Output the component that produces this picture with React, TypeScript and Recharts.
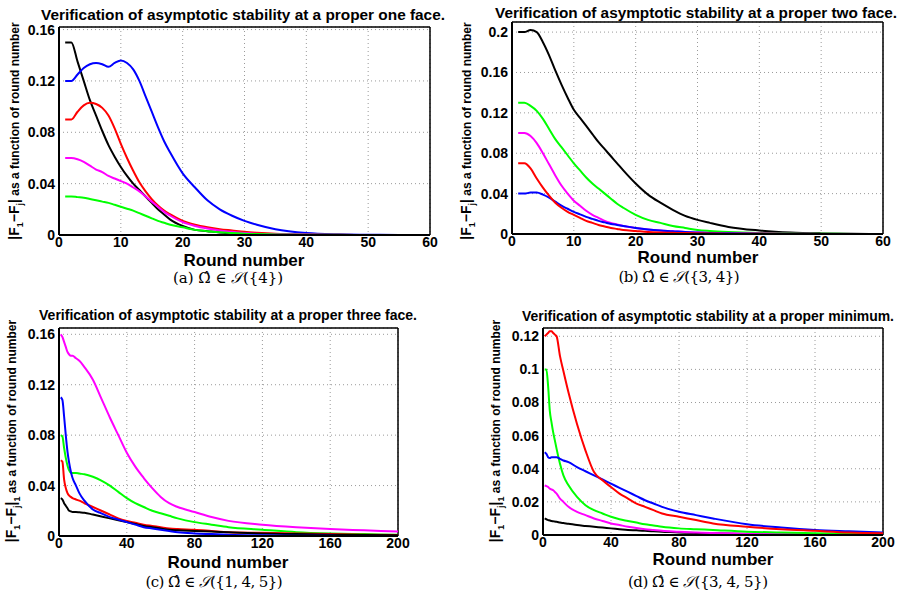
import React from "react"
import { CartesianGrid, Line, LineChart, ReferenceLine, XAxis, YAxis } from "recharts"

const roundsShort = [1, 2, 3, 4, 5, 6, 7, 8, 9, 10, 11, 12, 13, 14, 15, 16, 17, 18, 20, 22, 24, 26, 28, 30, 32, 35, 40, 45, 50, 55, 60]
const roundsLong = [1, 2, 3, 4, 5, 6, 7, 8, 10, 12, 15, 20, 25, 30, 35, 40, 45, 50, 55, 60, 65, 70, 80, 90, 100, 120, 140, 160, 180, 200]

// (a) one face
const aBlack = [0.15, 0.15, 0.135, 0.12, 0.105, 0.093, 0.081, 0.07, 0.061, 0.053, 0.046, 0.04, 0.035, 0.03, 0.025, 0.02, 0.016, 0.012, 0.007, 0.004, 0.003, 0.002, 0.0012, 0.0008, 0.0005, 0.0003, 0.0001, 0, 0, 0, 0]
const aBlue = [0.12, 0.12, 0.125, 0.13, 0.133, 0.134, 0.133, 0.131, 0.134, 0.136, 0.134, 0.129, 0.12, 0.108, 0.096, 0.084, 0.073, 0.064, 0.048, 0.037, 0.027, 0.02, 0.015, 0.011, 0.008, 0.0045, 0.0015, 0.0005, 0.0002, 0, 0]
const aRed = [0.09, 0.09, 0.096, 0.101, 0.103, 0.102, 0.099, 0.093, 0.083, 0.071, 0.06, 0.05, 0.041, 0.034, 0.028, 0.023, 0.019, 0.016, 0.011, 0.008, 0.006, 0.0045, 0.0035, 0.0025, 0.0018, 0.001, 0.0004, 0.0001, 0, 0, 0]
const aMagenta = [0.06, 0.06, 0.059, 0.057, 0.054, 0.051, 0.049, 0.046, 0.044, 0.042, 0.04, 0.037, 0.034, 0.03, 0.026, 0.022, 0.018, 0.015, 0.01, 0.007, 0.005, 0.0035, 0.0025, 0.0015, 0.001, 0.0006, 0.0003, 0.0001, 0, 0, 0]
const aGreen = [0.03, 0.03, 0.0295, 0.029, 0.028, 0.027, 0.026, 0.025, 0.0235, 0.022, 0.0205, 0.019, 0.017, 0.015, 0.013, 0.011, 0.0095, 0.008, 0.006, 0.004, 0.003, 0.0022, 0.0015, 0.001, 0.0007, 0.0004, 0.0002, 0.0001, 0, 0, 0]

// (b) two face
const bBlack = [0.2, 0.2, 0.202, 0.2, 0.19, 0.177, 0.162, 0.148, 0.135, 0.123, 0.115, 0.107, 0.099, 0.091, 0.084, 0.077, 0.07, 0.063, 0.05, 0.039, 0.031, 0.024, 0.018, 0.014, 0.011, 0.007, 0.0035, 0.0015, 0.0006, 0.0002, 0]
const bGreen = [0.13, 0.13, 0.127, 0.122, 0.114, 0.104, 0.094, 0.086, 0.078, 0.07, 0.063, 0.056, 0.05, 0.045, 0.04, 0.035, 0.03, 0.026, 0.019, 0.014, 0.011, 0.008, 0.006, 0.004, 0.003, 0.002, 0.001, 0.0005, 0.0002, 0.0001, 0]
const bMagenta = [0.1, 0.1, 0.097, 0.09, 0.08, 0.069, 0.058, 0.048, 0.04, 0.033, 0.028, 0.023, 0.019, 0.016, 0.013, 0.011, 0.0095, 0.008, 0.006, 0.0045, 0.0035, 0.0028, 0.002, 0.0015, 0.0011, 0.0007, 0.0004, 0.0002, 0.0001, 0, 0]
const bRed = [0.07, 0.07, 0.065, 0.055, 0.046, 0.038, 0.031, 0.026, 0.022, 0.019, 0.016, 0.013, 0.011, 0.009, 0.0075, 0.006, 0.005, 0.004, 0.003, 0.002, 0.0015, 0.0012, 0.0009, 0.0007, 0.0005, 0.0003, 0.0002, 0.0001, 0, 0, 0]
const bBlue = [0.04, 0.04, 0.041, 0.041, 0.039, 0.036, 0.032, 0.028, 0.025, 0.022, 0.0195, 0.017, 0.015, 0.013, 0.0115, 0.01, 0.009, 0.008, 0.006, 0.0045, 0.0035, 0.0028, 0.002, 0.0015, 0.0011, 0.0007, 0.0003, 0.0001, 0, 0, 0]

// (c) three face
const cMagenta = [0.16, 0.158, 0.154, 0.15, 0.146, 0.144, 0.143, 0.143, 0.141, 0.139, 0.134, 0.124, 0.109, 0.094, 0.08, 0.066, 0.055, 0.046, 0.038, 0.031, 0.026, 0.023, 0.019, 0.015, 0.012, 0.009, 0.007, 0.0055, 0.0045, 0.0035]
const cBlue = [0.11, 0.108, 0.095, 0.08, 0.067, 0.058, 0.051, 0.046, 0.04, 0.034, 0.028, 0.021, 0.018, 0.015, 0.013, 0.011, 0.009, 0.007, 0.006, 0.005, 0.004, 0.003, 0.002, 0.0015, 0.001, 0.0005, 0.0002, 0.0001, 0, 0]
const cGreen = [0.08, 0.079, 0.07, 0.062, 0.056, 0.052, 0.05, 0.05, 0.05, 0.0495, 0.049, 0.047, 0.044, 0.04, 0.035, 0.03, 0.026, 0.023, 0.02, 0.018, 0.016, 0.014, 0.011, 0.009, 0.007, 0.005, 0.003, 0.002, 0.0015, 0.001]
const cRed = [0.06, 0.059, 0.045, 0.038, 0.034, 0.032, 0.031, 0.03, 0.029, 0.028, 0.026, 0.023, 0.02, 0.017, 0.014, 0.012, 0.0105, 0.009, 0.008, 0.007, 0.006, 0.0055, 0.005, 0.004, 0.003, 0.0025, 0.002, 0.0015, 0.001, 0.0008]
const cBlack = [0.03, 0.029, 0.026, 0.024, 0.022, 0.02, 0.0195, 0.019, 0.019, 0.0188, 0.0185, 0.017, 0.0155, 0.014, 0.0125, 0.011, 0.0095, 0.008, 0.007, 0.006, 0.005, 0.0045, 0.004, 0.0035, 0.003, 0.002, 0.0015, 0.001, 0.0007, 0.0005]

// (d) minimum
const dRed = [0.12, 0.121, 0.122, 0.123, 0.123, 0.122, 0.121, 0.12, 0.108, 0.099, 0.086, 0.067, 0.051, 0.038, 0.033, 0.029, 0.025, 0.022, 0.019, 0.017, 0.015, 0.013, 0.011, 0.009, 0.007, 0.005, 0.0035, 0.0025, 0.0015, 0.001]
const dGreen = [0.1, 0.1, 0.09, 0.075, 0.068, 0.062, 0.057, 0.052, 0.043, 0.036, 0.03, 0.023, 0.018, 0.015, 0.013, 0.011, 0.0095, 0.0085, 0.0075, 0.0065, 0.0058, 0.005, 0.004, 0.0035, 0.003, 0.002, 0.0015, 0.001, 0.0007, 0.0005]
const dBlue = [0.05, 0.049, 0.047, 0.0465, 0.047, 0.047, 0.047, 0.047, 0.046, 0.045, 0.044, 0.041, 0.0385, 0.036, 0.0335, 0.031, 0.0285, 0.026, 0.0235, 0.021, 0.019, 0.017, 0.014, 0.012, 0.01, 0.0065, 0.0045, 0.003, 0.0022, 0.0015]
const dMagenta = [0.03, 0.0295, 0.029, 0.028, 0.0275, 0.027, 0.026, 0.025, 0.022, 0.02, 0.017, 0.014, 0.012, 0.01, 0.0085, 0.007, 0.006, 0.005, 0.0042, 0.0035, 0.003, 0.0025, 0.002, 0.0015, 0.0012, 0.0008, 0.0006, 0.0004, 0.0003, 0.0002]
const dBlack = [0.01, 0.0095, 0.009, 0.0088, 0.0085, 0.0083, 0.0081, 0.008, 0.0075, 0.0072, 0.0068, 0.006, 0.0055, 0.005, 0.0045, 0.004, 0.0035, 0.003, 0.0028, 0.0025, 0.0022, 0.002, 0.0015, 0.0012, 0.001, 0.0006, 0.0004, 0.0003, 0.0002, 0.0001]

// ticks
const xTicksShort = [0, 10, 20, 30, 40, 50, 60]
const xTicksLong = [0, 40, 80, 120, 160, 200]
const yTicksA = [0, 0.04, 0.08, 0.12, 0.16]
const yTicksB = [0, 0.04, 0.08, 0.12, 0.16, 0.2]
const yTicksC = [0, 0.04, 0.08, 0.12, 0.16]
const yTicksD = [0, 0.02, 0.04, 0.06, 0.08, 0.1, 0.12]

const titles = [
    "Verification of asymptotic stability at a proper one face.",
    "Verification of asymptotic stability at a proper two face.",
    "Verification of asymptotic stability at a proper three face.",
    "Verification of asymptotic stability at a proper minimum.",
]
const captionTags = ["(a)", "(b)", "(c)", "(d)"]
const captionSets = ["{4}", "{3, 4}", "{1, 4, 5}", "{3, 4, 5}"]

const colors: Record<string, string> = {
    black: "#000000",
    blue: "#0000ff",
    red: "#ff0000",
    magenta: "#ff00ff",
    green: "#00ff00",
}

type Series = { key: string; values: number[] }

type PanelProps = {
    left: number
    top: number
    width: number
    height: number
    margin: { top: number; right: number; bottom: number; left: number }
    xs: number[]
    series: Series[]
    xMax: number
    yMax: number
    xTicks: number[]
    yTicks: number[]
}

const tickFont = { fontFamily: "Liberation Sans, Arial, sans-serif", fontWeight: 700, fontSize: 14, fill: "#000" }

function Panel({ left, top, width, height, margin, xs, series, xMax, yMax, xTicks, yTicks }: PanelProps) {
    const data = xs.map((x, i) => {
        const row: Record<string, number> = { x }
        series.forEach((s) => (row[s.key] = s.values[i]))
        return row
    })
    return (
        <div style={{ position: "absolute", left, top }}>
            <LineChart width={width} height={height} data={data} margin={margin}>
                <CartesianGrid stroke="#9a9a9a" strokeDasharray="1 3" />
                <XAxis
                    type="number"
                    dataKey="x"
                    domain={[0, xMax]}
                    ticks={xTicks}
                    interval={0}
                    height={20}
                    tickLine={false}
                    tickSize={2}
                    tickMargin={0}
                    axisLine={{ stroke: "#000", strokeWidth: 2 }}
                    tick={tickFont}
                    allowDataOverflow
                />
                <YAxis
                    type="number"
                    domain={[0, yMax]}
                    ticks={yTicks}
                    interval={0}
                    width={40}
                    tickLine={false}
                    tickSize={2}
                    tickMargin={2}
                    axisLine={{ stroke: "#000", strokeWidth: 2 }}
                    tick={tickFont}
                    tickFormatter={(v: number) => String(v)}
                    allowDataOverflow
                />
                <ReferenceLine y={yMax} stroke="#000" strokeWidth={1.5} />
                <ReferenceLine x={xMax} stroke="#000" strokeWidth={1.5} />
                {series.map((s) => (
                    <Line
                        key={s.key}
                        type="monotone"
                        dataKey={s.key}
                        stroke={colors[s.key]}
                        strokeWidth={2}
                        dot={false}
                        isAnimationActive={false}
                    />
                ))}
            </LineChart>
        </div>
    )
}

function YLabel({ x, y, norm }: { x: number; y: number; norm: boolean }) {
    return (
        <text
            transform={`translate(${x},${y}) rotate(-90)`}
            textAnchor="middle"
            fontFamily="Liberation Sans, Arial, sans-serif"
            fontWeight={700}
            fontSize={12}
        >
            <tspan fontSize={14}>|F</tspan>
            <tspan fontSize={9} dy={4}>1</tspan>
            <tspan fontSize={14} dy={-4}>−F</tspan>
            <tspan fontSize={9} dy={4}>j</tspan>
            <tspan fontSize={14} dy={-4}>|</tspan>
            {norm ? <tspan fontSize={9} dy={4}>1</tspan> : null}
            <tspan dy={norm ? -4 : 0}> as a function of round number</tspan>
        </text>
    )
}

const captionWidths = [110, 121, 137, 140]

function Caption({ x, y, i }: { x: number; y: number; i: number }) {
    return (
        <text
            x={x}
            y={y}
            textAnchor="middle"
            fontFamily="DejaVu Serif, Liberation Serif, serif"
            fontSize={15}
            textLength={captionWidths[i]}
            lengthAdjust="spacing"
        >
            {captionTags[i]} Ω̂ ∈ <tspan fontStyle="italic">𝒮</tspan>({captionSets[i]})
        </text>
    )
}

const labelFont = { fontFamily: "Liberation Sans, Arial, sans-serif", fontWeight: 700 }
const titleWidths = [404, 402, 378, 372]

export default function App() {
    return (
        <div style={{ position: "absolute", left: 0, top: 0, width: 910, height: 595, background: "#fff" }}>
            <Panel
                left={0}
                top={0}
                width={455}
                height={290}
                margin={{ top: 27, right: 25, bottom: 35, left: 19 }}
                xs={roundsShort}
                series={[
                    { key: "black", values: aBlack },
                    { key: "blue", values: aBlue },
                    { key: "red", values: aRed },
                    { key: "magenta", values: aMagenta },
                    { key: "green", values: aGreen },
                ]}
                xMax={60}
                yMax={0.162}
                xTicks={xTicksShort}
                yTicks={yTicksA}
            />
            <Panel
                left={455}
                top={0}
                width={455}
                height={290}
                margin={{ top: 22, right: 27, bottom: 36, left: 17 }}
                xs={roundsShort}
                series={[
                    { key: "black", values: bBlack },
                    { key: "green", values: bGreen },
                    { key: "magenta", values: bMagenta },
                    { key: "blue", values: bBlue },
                    { key: "red", values: bRed },
                ]}
                xMax={60}
                yMax={0.21}
                xTicks={xTicksShort}
                yTicks={yTicksB}
            />
            <Panel
                left={0}
                top={290}
                width={455}
                height={305}
                margin={{ top: 38, right: 57, bottom: 39, left: 19 }}
                xs={roundsLong}
                series={[
                    { key: "magenta", values: cMagenta },
                    { key: "green", values: cGreen },
                    { key: "red", values: cRed },
                    { key: "black", values: cBlack },
                    { key: "blue", values: cBlue },
                ]}
                xMax={200}
                yMax={0.165}
                xTicks={xTicksLong}
                yTicks={yTicksC}
            />
            <Panel
                left={455}
                top={290}
                width={455}
                height={305}
                margin={{ top: 38, right: 27, bottom: 40, left: 48 }}
                xs={roundsLong}
                series={[
                    { key: "black", values: dBlack },
                    { key: "magenta", values: dMagenta },
                    { key: "green", values: dGreen },
                    { key: "blue", values: dBlue },
                    { key: "red", values: dRed },
                ]}
                xMax={200}
                yMax={0.125}
                xTicks={xTicksLong}
                yTicks={yTicksD}
            />
            <svg width={910} height={595} style={{ position: "absolute", left: 0, top: 0, pointerEvents: "none" }}>
                <g {...labelFont} fontSize={14} textAnchor="middle">
                    <text x={243} y={20} textLength={titleWidths[0]} lengthAdjust="spacingAndGlyphs">{titles[0]}</text>
                    <text x={696} y={18} textLength={titleWidths[1]} lengthAdjust="spacingAndGlyphs">{titles[1]}</text>
                    <text x={228} y={320} textLength={titleWidths[2]} lengthAdjust="spacingAndGlyphs">{titles[2]}</text>
                    <text x={708} y={321} textLength={titleWidths[3]} lengthAdjust="spacingAndGlyphs">{titles[3]}</text>
                </g>
                <g {...labelFont} fontSize={17} textAnchor="middle">
                    <text x={244} y={266}>Round number</text>
                    <text x={698} y={263}>Round number</text>
                    <text x={228} y={568}>Round number</text>
                    <text x={713} y={565}>Round number</text>
                </g>
                <YLabel x={19} y={131} norm={false} />
                <YLabel x={471} y={131} norm={false} />
                <YLabel x={16} y={431} norm={true} />
                <YLabel x={500} y={431} norm={true} />
                <Caption x={228} y={283} i={0} />
                <Caption x={679} y={282} i={1} />
                <Caption x={214} y={587} i={2} />
                <Caption x={698} y={587} i={3} />
            </svg>
        </div>
    )
}
